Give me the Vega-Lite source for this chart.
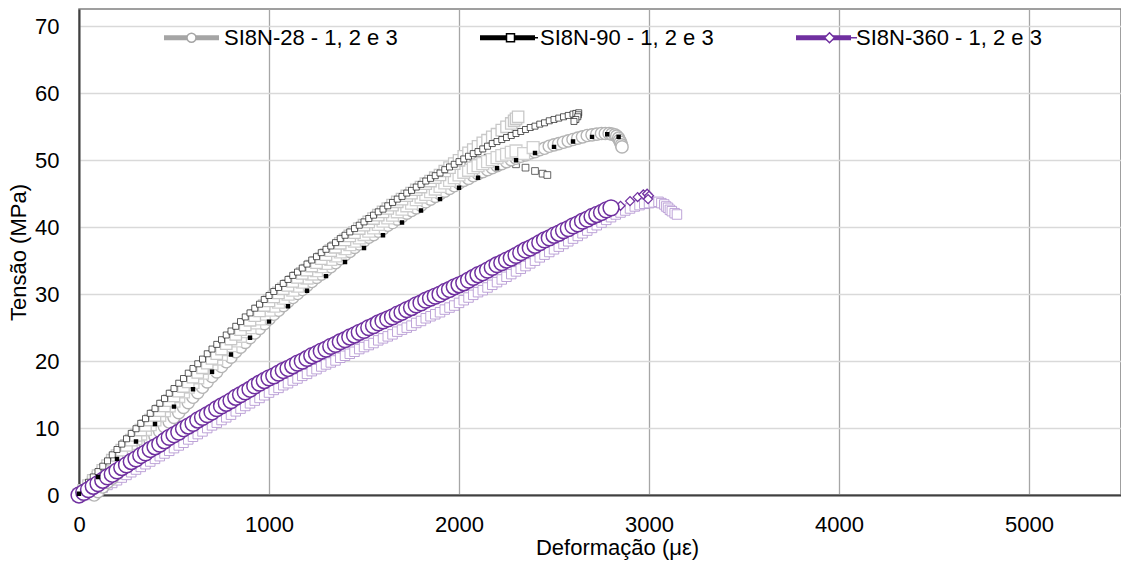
{
"$schema":"https://vega.github.io/schema/vega-lite/v6.json",
"width":1042,"height":486,
"autosize":{"type":"none"},
"padding":{"left":79,"top":9,"right":0,"bottom":69},
"background":"white",
"datasets":{
"leg":[{"g":"SI8N-28 - 1, 2 e 3"},{"g":"SI8N-90 - 1, 2 e 3"},{"g":"SI8N-360 - 1, 2 e 3"}],
"main":[
{"s":"B2","x":0,"y":0},{"s":"B2","x":100,"y":2.8},{"s":"B2","x":200,"y":5.7},{"s":"B2","x":300,"y":8.6},{"s":"B2","x":400,"y":11.5},{"s":"B2","x":500,"y":14.4},{"s":"B2","x":600,"y":17.2},{"s":"B2","x":700,"y":20.0},{"s":"B2","x":800,"y":22.7},{"s":"B2","x":900,"y":25.3},{"s":"B2","x":1000,"y":27.9},{"s":"B2","x":1100,"y":30.3},{"s":"B2","x":1200,"y":32.7},{"s":"B2","x":1300,"y":35.0},{"s":"B2","x":1400,"y":37.2},{"s":"B2","x":1500,"y":39.3},{"s":"B2","x":1600,"y":41.3},{"s":"B2","x":1700,"y":43.2},{"s":"B2","x":1800,"y":45.1},{"s":"B2","x":1900,"y":46.9},{"s":"B2","x":2000,"y":48.6},{"s":"B2","x":2050,"y":49.4},{"s":"B2","x":2100,"y":50.0},{"s":"B2","x":2150,"y":50.4},{"s":"B2","x":2200,"y":50.3},{"s":"B2","x":2250,"y":49.9},{"s":"B2","x":2300,"y":49.4},{"s":"B2","x":2350,"y":48.9},{"s":"B2","x":2400,"y":48.4},{"s":"B2","x":2440,"y":48.0},{"s":"B2","x":2465,"y":47.8},
{"s":"P3","x":50,"y":0.0},{"s":"P3","x":75,"y":0.3},{"s":"P3","x":100,"y":0.6},{"s":"P3","x":125,"y":1.1},{"s":"P3","x":150,"y":1.5},{"s":"P3","x":175,"y":1.8},{"s":"P3","x":200,"y":2.2},{"s":"P3","x":225,"y":2.6},{"s":"P3","x":250,"y":3.0},{"s":"P3","x":275,"y":3.4},{"s":"P3","x":300,"y":3.8},{"s":"P3","x":325,"y":4.2},{"s":"P3","x":350,"y":4.6},{"s":"P3","x":375,"y":5.0},{"s":"P3","x":400,"y":5.4},{"s":"P3","x":425,"y":5.8},{"s":"P3","x":450,"y":6.2},{"s":"P3","x":475,"y":6.6},{"s":"P3","x":500,"y":7.0},{"s":"P3","x":525,"y":7.4},{"s":"P3","x":550,"y":7.8},{"s":"P3","x":575,"y":8.3},{"s":"P3","x":600,"y":8.7},{"s":"P3","x":625,"y":9.1},{"s":"P3","x":650,"y":9.5},{"s":"P3","x":675,"y":10.0},{"s":"P3","x":700,"y":10.4},{"s":"P3","x":725,"y":10.8},{"s":"P3","x":750,"y":11.2},{"s":"P3","x":775,"y":11.6},{"s":"P3","x":800,"y":12.0},{"s":"P3","x":825,"y":12.5},{"s":"P3","x":850,"y":12.9},{"s":"P3","x":875,"y":13.3},{"s":"P3","x":900,"y":13.7},{"s":"P3","x":925,"y":14.1},{"s":"P3","x":950,"y":14.5},{"s":"P3","x":975,"y":14.9},{"s":"P3","x":1000,"y":15.3},{"s":"P3","x":1025,"y":15.7},{"s":"P3","x":1050,"y":16.0},{"s":"P3","x":1075,"y":16.4},{"s":"P3","x":1100,"y":16.7},{"s":"P3","x":1125,"y":17.1},{"s":"P3","x":1150,"y":17.4},{"s":"P3","x":1175,"y":17.8},{"s":"P3","x":1200,"y":18.1},{"s":"P3","x":1225,"y":18.5},{"s":"P3","x":1250,"y":18.8},{"s":"P3","x":1275,"y":19.2},{"s":"P3","x":1300,"y":19.5},{"s":"P3","x":1325,"y":19.8},{"s":"P3","x":1350,"y":20.1},{"s":"P3","x":1375,"y":20.5},{"s":"P3","x":1400,"y":20.8},{"s":"P3","x":1425,"y":21.1},{"s":"P3","x":1450,"y":21.4},{"s":"P3","x":1475,"y":21.8},{"s":"P3","x":1500,"y":22.1},{"s":"P3","x":1525,"y":22.4},{"s":"P3","x":1550,"y":22.7},{"s":"P3","x":1575,"y":23.1},{"s":"P3","x":1600,"y":23.4},{"s":"P3","x":1625,"y":23.7},{"s":"P3","x":1650,"y":24.0},{"s":"P3","x":1675,"y":24.4},{"s":"P3","x":1700,"y":24.7},{"s":"P3","x":1725,"y":25.0},{"s":"P3","x":1750,"y":25.3},{"s":"P3","x":1775,"y":25.7},{"s":"P3","x":1800,"y":26.0},{"s":"P3","x":1825,"y":26.4},{"s":"P3","x":1850,"y":26.7},{"s":"P3","x":1875,"y":27.0},{"s":"P3","x":1900,"y":27.3},{"s":"P3","x":1925,"y":27.7},{"s":"P3","x":1950,"y":28.0},{"s":"P3","x":1975,"y":28.3},{"s":"P3","x":2000,"y":28.7},{"s":"P3","x":2025,"y":29.1},{"s":"P3","x":2050,"y":29.5},{"s":"P3","x":2075,"y":29.9},{"s":"P3","x":2100,"y":30.3},{"s":"P3","x":2125,"y":30.6},{"s":"P3","x":2150,"y":31.0},{"s":"P3","x":2175,"y":31.4},{"s":"P3","x":2200,"y":31.8},{"s":"P3","x":2225,"y":32.2},{"s":"P3","x":2250,"y":32.6},{"s":"P3","x":2275,"y":33.0},{"s":"P3","x":2300,"y":33.4},{"s":"P3","x":2325,"y":33.8},{"s":"P3","x":2350,"y":34.2},{"s":"P3","x":2375,"y":34.6},{"s":"P3","x":2400,"y":35.0},{"s":"P3","x":2425,"y":35.5},{"s":"P3","x":2450,"y":35.9},{"s":"P3","x":2475,"y":36.3},{"s":"P3","x":2500,"y":36.7},{"s":"P3","x":2525,"y":37.1},{"s":"P3","x":2550,"y":37.5},{"s":"P3","x":2575,"y":37.9},{"s":"P3","x":2600,"y":38.3},{"s":"P3","x":2625,"y":38.7},{"s":"P3","x":2650,"y":39.1},{"s":"P3","x":2675,"y":39.5},{"s":"P3","x":2700,"y":39.9},{"s":"P3","x":2725,"y":40.3},{"s":"P3","x":2750,"y":40.7},{"s":"P3","x":2775,"y":41.1},{"s":"P3","x":2800,"y":41.5},{"s":"P3","x":2825,"y":41.9},{"s":"P3","x":2850,"y":42.2},{"s":"P3","x":2875,"y":42.5},{"s":"P3","x":2900,"y":42.8},{"s":"P3","x":2925,"y":43.1},{"s":"P3","x":2950,"y":43.3},{"s":"P3","x":2975,"y":43.5},{"s":"P3","x":3000,"y":43.6},{"s":"P3","x":3025,"y":43.7},{"s":"P3","x":3050,"y":43.8},{"s":"P3","x":3065,"y":43.6},{"s":"P3","x":3080,"y":43.4},{"s":"P3","x":3090,"y":43.1},{"s":"P3","x":3100,"y":42.9},{"s":"P3","x":3110,"y":42.6},{"s":"P3","x":3120,"y":42.4},{"s":"P3","x":3135,"y":42.1},{"s":"P3","x":3147,"y":41.9},
{"s":"G1","x":80,"y":0.0},{"s":"G1","x":100,"y":0.5},{"s":"G1","x":125,"y":1.2},{"s":"G1","x":150,"y":1.9},{"s":"G1","x":175,"y":2.5},{"s":"G1","x":200,"y":3.2},{"s":"G1","x":225,"y":3.9},{"s":"G1","x":250,"y":4.6},{"s":"G1","x":275,"y":5.3},{"s":"G1","x":300,"y":6.0},{"s":"G1","x":325,"y":6.7},{"s":"G1","x":350,"y":7.4},{"s":"G1","x":375,"y":8.1},{"s":"G1","x":400,"y":8.8},{"s":"G1","x":425,"y":9.5},{"s":"G1","x":450,"y":10.2},{"s":"G1","x":475,"y":10.9},{"s":"G1","x":500,"y":11.6},{"s":"G1","x":525,"y":12.3},{"s":"G1","x":550,"y":13.1},{"s":"G1","x":575,"y":13.8},{"s":"G1","x":600,"y":14.6},{"s":"G1","x":625,"y":15.3},{"s":"G1","x":650,"y":16.1},{"s":"G1","x":675,"y":16.9},{"s":"G1","x":700,"y":17.7},{"s":"G1","x":725,"y":18.4},{"s":"G1","x":750,"y":19.2},{"s":"G1","x":775,"y":19.9},{"s":"G1","x":800,"y":20.6},{"s":"G1","x":825,"y":21.4},{"s":"G1","x":850,"y":22.1},{"s":"G1","x":875,"y":22.8},{"s":"G1","x":900,"y":23.5},{"s":"G1","x":925,"y":24.2},{"s":"G1","x":950,"y":24.9},{"s":"G1","x":975,"y":25.6},{"s":"G1","x":1000,"y":26.3},{"s":"G1","x":1025,"y":27.0},{"s":"G1","x":1050,"y":27.6},{"s":"G1","x":1075,"y":28.3},{"s":"G1","x":1100,"y":28.9},{"s":"G1","x":1125,"y":29.5},{"s":"G1","x":1150,"y":30.1},{"s":"G1","x":1175,"y":30.7},{"s":"G1","x":1200,"y":31.3},{"s":"G1","x":1225,"y":31.9},{"s":"G1","x":1250,"y":32.5},{"s":"G1","x":1275,"y":33.0},{"s":"G1","x":1300,"y":33.6},{"s":"G1","x":1325,"y":34.1},{"s":"G1","x":1350,"y":34.7},{"s":"G1","x":1375,"y":35.3},{"s":"G1","x":1400,"y":35.9},{"s":"G1","x":1425,"y":36.4},{"s":"G1","x":1450,"y":37.0},{"s":"G1","x":1475,"y":37.5},{"s":"G1","x":1500,"y":38.0},{"s":"G1","x":1525,"y":38.5},{"s":"G1","x":1550,"y":38.9},{"s":"G1","x":1575,"y":39.4},{"s":"G1","x":1600,"y":39.8},{"s":"G1","x":1625,"y":40.3},{"s":"G1","x":1650,"y":40.7},{"s":"G1","x":1675,"y":41.2},{"s":"G1","x":1700,"y":41.6},{"s":"G1","x":1725,"y":42.1},{"s":"G1","x":1750,"y":42.5},{"s":"G1","x":1775,"y":42.9},{"s":"G1","x":1800,"y":43.3},{"s":"G1","x":1825,"y":43.8},{"s":"G1","x":1850,"y":44.2},{"s":"G1","x":1875,"y":44.6},{"s":"G1","x":1900,"y":45.0},{"s":"G1","x":1925,"y":45.4},{"s":"G1","x":1950,"y":45.8},{"s":"G1","x":1975,"y":46.2},{"s":"G1","x":2000,"y":46.6},{"s":"G1","x":2025,"y":47.0},{"s":"G1","x":2050,"y":47.3},{"s":"G1","x":2075,"y":47.7},{"s":"G1","x":2100,"y":48.0},{"s":"G1","x":2125,"y":48.3},{"s":"G1","x":2150,"y":48.6},{"s":"G1","x":2175,"y":48.9},{"s":"G1","x":2200,"y":49.2},{"s":"G1","x":2225,"y":49.5},{"s":"G1","x":2250,"y":49.8},{"s":"G1","x":2275,"y":50.1},{"s":"G1","x":2300,"y":50.3},{"s":"G1","x":2325,"y":50.6},{"s":"G1","x":2350,"y":50.8},{"s":"G1","x":2375,"y":51.1},{"s":"G1","x":2400,"y":51.3},{"s":"G1","x":2425,"y":51.6},{"s":"G1","x":2450,"y":51.8},{"s":"G1","x":2475,"y":52.1},{"s":"G1","x":2500,"y":52.3},{"s":"G1","x":2525,"y":52.5},{"s":"G1","x":2550,"y":52.7},{"s":"G1","x":2575,"y":52.9},{"s":"G1","x":2600,"y":53.1},{"s":"G1","x":2625,"y":53.3},{"s":"G1","x":2650,"y":53.5},{"s":"G1","x":2675,"y":53.7},{"s":"G1","x":2700,"y":53.8},{"s":"G1","x":2725,"y":53.9},{"s":"G1","x":2750,"y":54.0},{"s":"G1","x":2770,"y":54.0},{"s":"G1","x":2790,"y":54.0},{"s":"G1","x":2805,"y":53.9},{"s":"G1","x":2820,"y":53.8},{"s":"G1","x":2830,"y":53.6},{"s":"G1","x":2840,"y":53.3},{"s":"G1","x":2845,"y":53.0},{"s":"G1","x":2850,"y":52.7},{"s":"G1","x":2855,"y":52.3},{"s":"G1","x":2858,"y":52.0},
{"s":"G3","x":0,"y":0},{"s":"G3","x":25,"y":0.6},{"s":"G3","x":50,"y":1.2},{"s":"G3","x":75,"y":1.9},{"s":"G3","x":100,"y":2.6},{"s":"G3","x":125,"y":3.3},{"s":"G3","x":150,"y":4.0},{"s":"G3","x":175,"y":4.8},{"s":"G3","x":200,"y":5.5},{"s":"G3","x":225,"y":6.3},{"s":"G3","x":250,"y":7.0},{"s":"G3","x":275,"y":7.7},{"s":"G3","x":300,"y":8.4},{"s":"G3","x":325,"y":9.1},{"s":"G3","x":350,"y":9.8},{"s":"G3","x":375,"y":10.5},{"s":"G3","x":400,"y":11.2},{"s":"G3","x":425,"y":11.9},{"s":"G3","x":450,"y":12.6},{"s":"G3","x":475,"y":13.3},{"s":"G3","x":500,"y":14.0},{"s":"G3","x":525,"y":14.7},{"s":"G3","x":550,"y":15.4},{"s":"G3","x":575,"y":16.1},{"s":"G3","x":600,"y":16.8},{"s":"G3","x":625,"y":17.5},{"s":"G3","x":650,"y":18.2},{"s":"G3","x":675,"y":18.9},{"s":"G3","x":700,"y":19.6},{"s":"G3","x":725,"y":20.3},{"s":"G3","x":750,"y":21.0},{"s":"G3","x":775,"y":21.7},{"s":"G3","x":800,"y":22.3},{"s":"G3","x":825,"y":23.0},{"s":"G3","x":850,"y":23.7},{"s":"G3","x":875,"y":24.4},{"s":"G3","x":900,"y":25.0},{"s":"G3","x":925,"y":25.7},{"s":"G3","x":950,"y":26.3},{"s":"G3","x":975,"y":27.0},{"s":"G3","x":1000,"y":27.6},{"s":"G3","x":1025,"y":28.2},{"s":"G3","x":1050,"y":28.8},{"s":"G3","x":1075,"y":29.4},{"s":"G3","x":1100,"y":30.0},{"s":"G3","x":1125,"y":30.6},{"s":"G3","x":1150,"y":31.2},{"s":"G3","x":1175,"y":31.8},{"s":"G3","x":1200,"y":32.4},{"s":"G3","x":1225,"y":33.0},{"s":"G3","x":1250,"y":33.5},{"s":"G3","x":1275,"y":34.1},{"s":"G3","x":1300,"y":34.6},{"s":"G3","x":1325,"y":35.2},{"s":"G3","x":1350,"y":35.7},{"s":"G3","x":1375,"y":36.3},{"s":"G3","x":1400,"y":36.8},{"s":"G3","x":1425,"y":37.4},{"s":"G3","x":1450,"y":37.9},{"s":"G3","x":1475,"y":38.4},{"s":"G3","x":1500,"y":38.9},{"s":"G3","x":1525,"y":39.4},{"s":"G3","x":1550,"y":39.9},{"s":"G3","x":1575,"y":40.4},{"s":"G3","x":1600,"y":40.9},{"s":"G3","x":1625,"y":41.4},{"s":"G3","x":1650,"y":41.8},{"s":"G3","x":1675,"y":42.3},{"s":"G3","x":1700,"y":42.7},{"s":"G3","x":1725,"y":43.2},{"s":"G3","x":1750,"y":43.6},{"s":"G3","x":1775,"y":44.1},{"s":"G3","x":1800,"y":44.5},{"s":"G3","x":1825,"y":44.9},{"s":"G3","x":1850,"y":45.3},{"s":"G3","x":1875,"y":45.7},{"s":"G3","x":1900,"y":46.1},{"s":"G3","x":1925,"y":46.6},{"s":"G3","x":1950,"y":47.0},{"s":"G3","x":1975,"y":47.4},{"s":"G3","x":2000,"y":47.8},{"s":"G3","x":2025,"y":48.2},{"s":"G3","x":2050,"y":48.5},{"s":"G3","x":2075,"y":48.9},{"s":"G3","x":2100,"y":49.2},{"s":"G3","x":2125,"y":49.5},{"s":"G3","x":2150,"y":49.8},{"s":"G3","x":2175,"y":50.1},{"s":"G3","x":2200,"y":50.4},{"s":"G3","x":2225,"y":50.7},{"s":"G3","x":2250,"y":50.9},{"s":"G3","x":2275,"y":51.2},{"s":"G3","x":2300,"y":51.4},{"s":"G3","x":2340,"y":51.0},{"s":"G3","x":2390,"y":51.9},
{"s":"G2","x":0,"y":0},{"s":"G2","x":25,"y":0.7},{"s":"G2","x":50,"y":1.4},{"s":"G2","x":75,"y":2.2},{"s":"G2","x":100,"y":2.9},{"s":"G2","x":125,"y":3.7},{"s":"G2","x":150,"y":4.4},{"s":"G2","x":175,"y":5.2},{"s":"G2","x":200,"y":5.9},{"s":"G2","x":225,"y":6.7},{"s":"G2","x":250,"y":7.4},{"s":"G2","x":275,"y":8.2},{"s":"G2","x":300,"y":8.9},{"s":"G2","x":325,"y":9.7},{"s":"G2","x":350,"y":10.4},{"s":"G2","x":375,"y":11.2},{"s":"G2","x":400,"y":11.9},{"s":"G2","x":425,"y":12.6},{"s":"G2","x":450,"y":13.3},{"s":"G2","x":475,"y":14.1},{"s":"G2","x":500,"y":14.8},{"s":"G2","x":525,"y":15.5},{"s":"G2","x":550,"y":16.2},{"s":"G2","x":575,"y":16.9},{"s":"G2","x":600,"y":17.6},{"s":"G2","x":625,"y":18.3},{"s":"G2","x":650,"y":19.0},{"s":"G2","x":675,"y":19.7},{"s":"G2","x":700,"y":20.4},{"s":"G2","x":725,"y":21.1},{"s":"G2","x":750,"y":21.8},{"s":"G2","x":775,"y":22.6},{"s":"G2","x":800,"y":23.3},{"s":"G2","x":825,"y":24.0},{"s":"G2","x":850,"y":24.7},{"s":"G2","x":875,"y":25.4},{"s":"G2","x":900,"y":26.1},{"s":"G2","x":925,"y":26.8},{"s":"G2","x":950,"y":27.5},{"s":"G2","x":975,"y":28.3},{"s":"G2","x":1000,"y":29.0},{"s":"G2","x":1025,"y":29.6},{"s":"G2","x":1050,"y":30.2},{"s":"G2","x":1075,"y":30.8},{"s":"G2","x":1100,"y":31.3},{"s":"G2","x":1125,"y":31.9},{"s":"G2","x":1150,"y":32.5},{"s":"G2","x":1175,"y":33.1},{"s":"G2","x":1200,"y":33.6},{"s":"G2","x":1225,"y":34.2},{"s":"G2","x":1250,"y":34.7},{"s":"G2","x":1275,"y":35.3},{"s":"G2","x":1300,"y":35.9},{"s":"G2","x":1325,"y":36.5},{"s":"G2","x":1350,"y":37.0},{"s":"G2","x":1375,"y":37.6},{"s":"G2","x":1400,"y":38.1},{"s":"G2","x":1425,"y":38.7},{"s":"G2","x":1450,"y":39.2},{"s":"G2","x":1475,"y":39.8},{"s":"G2","x":1500,"y":40.3},{"s":"G2","x":1525,"y":40.8},{"s":"G2","x":1550,"y":41.3},{"s":"G2","x":1575,"y":41.8},{"s":"G2","x":1600,"y":42.3},{"s":"G2","x":1625,"y":42.8},{"s":"G2","x":1650,"y":43.3},{"s":"G2","x":1675,"y":43.8},{"s":"G2","x":1700,"y":44.2},{"s":"G2","x":1725,"y":44.7},{"s":"G2","x":1750,"y":45.1},{"s":"G2","x":1775,"y":45.6},{"s":"G2","x":1800,"y":46.0},{"s":"G2","x":1825,"y":46.5},{"s":"G2","x":1850,"y":46.9},{"s":"G2","x":1875,"y":47.4},{"s":"G2","x":1900,"y":47.8},{"s":"G2","x":1925,"y":48.4},{"s":"G2","x":1950,"y":48.9},{"s":"G2","x":1975,"y":49.5},{"s":"G2","x":2000,"y":50.0},{"s":"G2","x":2025,"y":50.6},{"s":"G2","x":2050,"y":51.1},{"s":"G2","x":2075,"y":51.6},{"s":"G2","x":2100,"y":52.1},{"s":"G2","x":2125,"y":52.6},{"s":"G2","x":2150,"y":53.0},{"s":"G2","x":2175,"y":53.5},{"s":"G2","x":2200,"y":53.9},{"s":"G2","x":2225,"y":54.5},{"s":"G2","x":2250,"y":55.0},{"s":"G2","x":2275,"y":55.5},{"s":"G2","x":2290,"y":55.9},{"s":"G2","x":2300,"y":56.2},{"s":"G2","x":2311,"y":56.5},
{"s":"B1","x":0,"y":0.3},{"s":"B1","x":25,"y":1.1},{"s":"B1","x":50,"y":1.9},{"s":"B1","x":75,"y":2.7},{"s":"B1","x":100,"y":3.5},{"s":"B1","x":125,"y":4.3},{"s":"B1","x":150,"y":5.1},{"s":"B1","x":175,"y":6.0},{"s":"B1","x":200,"y":6.8},{"s":"B1","x":225,"y":7.6},{"s":"B1","x":250,"y":8.4},{"s":"B1","x":275,"y":9.2},{"s":"B1","x":300,"y":9.9},{"s":"B1","x":325,"y":10.7},{"s":"B1","x":350,"y":11.4},{"s":"B1","x":375,"y":12.2},{"s":"B1","x":400,"y":12.9},{"s":"B1","x":425,"y":13.7},{"s":"B1","x":450,"y":14.4},{"s":"B1","x":475,"y":15.2},{"s":"B1","x":500,"y":15.9},{"s":"B1","x":525,"y":16.7},{"s":"B1","x":550,"y":17.4},{"s":"B1","x":575,"y":18.2},{"s":"B1","x":600,"y":18.9},{"s":"B1","x":625,"y":19.6},{"s":"B1","x":650,"y":20.3},{"s":"B1","x":675,"y":21.1},{"s":"B1","x":700,"y":21.8},{"s":"B1","x":725,"y":22.5},{"s":"B1","x":750,"y":23.2},{"s":"B1","x":775,"y":23.9},{"s":"B1","x":800,"y":24.5},{"s":"B1","x":825,"y":25.2},{"s":"B1","x":850,"y":25.9},{"s":"B1","x":875,"y":26.6},{"s":"B1","x":900,"y":27.2},{"s":"B1","x":925,"y":27.9},{"s":"B1","x":950,"y":28.5},{"s":"B1","x":975,"y":29.2},{"s":"B1","x":1000,"y":29.8},{"s":"B1","x":1025,"y":30.4},{"s":"B1","x":1050,"y":31.0},{"s":"B1","x":1075,"y":31.6},{"s":"B1","x":1100,"y":32.2},{"s":"B1","x":1125,"y":32.8},{"s":"B1","x":1150,"y":33.3},{"s":"B1","x":1175,"y":33.9},{"s":"B1","x":1200,"y":34.5},{"s":"B1","x":1225,"y":35.1},{"s":"B1","x":1250,"y":35.6},{"s":"B1","x":1275,"y":36.2},{"s":"B1","x":1300,"y":36.7},{"s":"B1","x":1325,"y":37.2},{"s":"B1","x":1350,"y":37.7},{"s":"B1","x":1375,"y":38.3},{"s":"B1","x":1400,"y":38.8},{"s":"B1","x":1425,"y":39.3},{"s":"B1","x":1450,"y":39.8},{"s":"B1","x":1475,"y":40.3},{"s":"B1","x":1500,"y":40.8},{"s":"B1","x":1525,"y":41.3},{"s":"B1","x":1550,"y":41.8},{"s":"B1","x":1575,"y":42.3},{"s":"B1","x":1600,"y":42.7},{"s":"B1","x":1625,"y":43.2},{"s":"B1","x":1650,"y":43.7},{"s":"B1","x":1675,"y":44.2},{"s":"B1","x":1700,"y":44.6},{"s":"B1","x":1725,"y":45.1},{"s":"B1","x":1750,"y":45.5},{"s":"B1","x":1775,"y":46.0},{"s":"B1","x":1800,"y":46.4},{"s":"B1","x":1825,"y":46.9},{"s":"B1","x":1850,"y":47.3},{"s":"B1","x":1875,"y":47.7},{"s":"B1","x":1900,"y":48.1},{"s":"B1","x":1925,"y":48.6},{"s":"B1","x":1950,"y":49.0},{"s":"B1","x":1975,"y":49.4},{"s":"B1","x":2000,"y":49.8},{"s":"B1","x":2025,"y":50.2},{"s":"B1","x":2050,"y":50.6},{"s":"B1","x":2075,"y":51.0},{"s":"B1","x":2100,"y":51.3},{"s":"B1","x":2125,"y":51.7},{"s":"B1","x":2150,"y":52.1},{"s":"B1","x":2175,"y":52.5},{"s":"B1","x":2200,"y":52.8},{"s":"B1","x":2225,"y":53.1},{"s":"B1","x":2250,"y":53.4},{"s":"B1","x":2275,"y":53.7},{"s":"B1","x":2300,"y":54.0},{"s":"B1","x":2325,"y":54.3},{"s":"B1","x":2350,"y":54.6},{"s":"B1","x":2375,"y":54.9},{"s":"B1","x":2400,"y":55.1},{"s":"B1","x":2425,"y":55.4},{"s":"B1","x":2450,"y":55.6},{"s":"B1","x":2475,"y":55.9},{"s":"B1","x":2500,"y":56.1},{"s":"B1","x":2525,"y":56.3},{"s":"B1","x":2550,"y":56.5},{"s":"B1","x":2575,"y":56.7},{"s":"B1","x":2600,"y":56.9},{"s":"B1","x":2615,"y":57.0},{"s":"B1","x":2630,"y":57.1},{"s":"B1","x":2628,"y":56.8},{"s":"B1","x":2625,"y":56.5},{"s":"B1","x":2615,"y":56.1},{"s":"B1","x":2605,"y":55.8},
{"s":"P2","x":0,"y":0},{"s":"P2","x":100,"y":1.3},{"s":"P2","x":200,"y":3.2},{"s":"P2","x":300,"y":5.0},{"s":"P2","x":400,"y":6.8},{"s":"P2","x":500,"y":8.6},{"s":"P2","x":600,"y":10.3},{"s":"P2","x":700,"y":12.0},{"s":"P2","x":800,"y":13.7},{"s":"P2","x":900,"y":15.4},{"s":"P2","x":1000,"y":17.0},{"s":"P2","x":1100,"y":18.5},{"s":"P2","x":1200,"y":20.0},{"s":"P2","x":1300,"y":21.4},{"s":"P2","x":1400,"y":22.8},{"s":"P2","x":1500,"y":24.2},{"s":"P2","x":1600,"y":25.6},{"s":"P2","x":1700,"y":26.9},{"s":"P2","x":1800,"y":28.3},{"s":"P2","x":1900,"y":29.6},{"s":"P2","x":2000,"y":31.0},{"s":"P2","x":2100,"y":32.5},{"s":"P2","x":2200,"y":34.0},{"s":"P2","x":2300,"y":35.5},{"s":"P2","x":2400,"y":37.0},{"s":"P2","x":2500,"y":38.5},{"s":"P2","x":2600,"y":40.0},{"s":"P2","x":2700,"y":41.3},{"s":"P2","x":2800,"y":42.5},{"s":"P2","x":2850,"y":43.2},{"s":"P2","x":2900,"y":43.9},{"s":"P2","x":2940,"y":44.5},{"s":"P2","x":2970,"y":44.9},{"s":"P2","x":2990,"y":45.0},{"s":"P2","x":3000,"y":44.7},{"s":"P2","x":2995,"y":44.2},
{"s":"P1","x":0,"y":0.0},{"s":"P1","x":25,"y":0.4},{"s":"P1","x":50,"y":0.8},{"s":"P1","x":75,"y":1.3},{"s":"P1","x":100,"y":1.7},{"s":"P1","x":125,"y":2.2},{"s":"P1","x":150,"y":2.7},{"s":"P1","x":175,"y":3.1},{"s":"P1","x":200,"y":3.6},{"s":"P1","x":225,"y":4.1},{"s":"P1","x":250,"y":4.5},{"s":"P1","x":275,"y":5.0},{"s":"P1","x":300,"y":5.4},{"s":"P1","x":325,"y":5.9},{"s":"P1","x":350,"y":6.3},{"s":"P1","x":375,"y":6.8},{"s":"P1","x":400,"y":7.2},{"s":"P1","x":425,"y":7.6},{"s":"P1","x":450,"y":8.1},{"s":"P1","x":475,"y":8.6},{"s":"P1","x":500,"y":9.0},{"s":"P1","x":525,"y":9.4},{"s":"P1","x":550,"y":9.9},{"s":"P1","x":575,"y":10.3},{"s":"P1","x":600,"y":10.7},{"s":"P1","x":625,"y":11.2},{"s":"P1","x":650,"y":11.6},{"s":"P1","x":675,"y":12.0},{"s":"P1","x":700,"y":12.4},{"s":"P1","x":725,"y":12.9},{"s":"P1","x":750,"y":13.3},{"s":"P1","x":775,"y":13.7},{"s":"P1","x":800,"y":14.1},{"s":"P1","x":825,"y":14.6},{"s":"P1","x":850,"y":15.0},{"s":"P1","x":875,"y":15.4},{"s":"P1","x":900,"y":15.8},{"s":"P1","x":925,"y":16.3},{"s":"P1","x":950,"y":16.7},{"s":"P1","x":975,"y":17.1},{"s":"P1","x":1000,"y":17.5},{"s":"P1","x":1025,"y":17.8},{"s":"P1","x":1050,"y":18.2},{"s":"P1","x":1075,"y":18.6},{"s":"P1","x":1100,"y":18.9},{"s":"P1","x":1125,"y":19.3},{"s":"P1","x":1150,"y":19.7},{"s":"P1","x":1175,"y":20.0},{"s":"P1","x":1200,"y":20.4},{"s":"P1","x":1225,"y":20.8},{"s":"P1","x":1250,"y":21.1},{"s":"P1","x":1275,"y":21.5},{"s":"P1","x":1300,"y":21.8},{"s":"P1","x":1325,"y":22.2},{"s":"P1","x":1350,"y":22.5},{"s":"P1","x":1375,"y":22.9},{"s":"P1","x":1400,"y":23.2},{"s":"P1","x":1425,"y":23.6},{"s":"P1","x":1450,"y":23.9},{"s":"P1","x":1475,"y":24.3},{"s":"P1","x":1500,"y":24.6},{"s":"P1","x":1525,"y":25.0},{"s":"P1","x":1550,"y":25.3},{"s":"P1","x":1575,"y":25.7},{"s":"P1","x":1600,"y":26.0},{"s":"P1","x":1625,"y":26.3},{"s":"P1","x":1650,"y":26.6},{"s":"P1","x":1675,"y":27.0},{"s":"P1","x":1700,"y":27.3},{"s":"P1","x":1725,"y":27.7},{"s":"P1","x":1750,"y":28.0},{"s":"P1","x":1775,"y":28.4},{"s":"P1","x":1800,"y":28.7},{"s":"P1","x":1825,"y":29.1},{"s":"P1","x":1850,"y":29.4},{"s":"P1","x":1875,"y":29.7},{"s":"P1","x":1900,"y":30.0},{"s":"P1","x":1925,"y":30.4},{"s":"P1","x":1950,"y":30.7},{"s":"P1","x":1975,"y":31.1},{"s":"P1","x":2000,"y":31.4},{"s":"P1","x":2025,"y":31.7},{"s":"P1","x":2050,"y":32.1},{"s":"P1","x":2075,"y":32.5},{"s":"P1","x":2100,"y":32.9},{"s":"P1","x":2125,"y":33.2},{"s":"P1","x":2150,"y":33.6},{"s":"P1","x":2175,"y":34.0},{"s":"P1","x":2200,"y":34.4},{"s":"P1","x":2225,"y":34.7},{"s":"P1","x":2250,"y":35.1},{"s":"P1","x":2275,"y":35.4},{"s":"P1","x":2300,"y":35.8},{"s":"P1","x":2325,"y":36.2},{"s":"P1","x":2350,"y":36.6},{"s":"P1","x":2375,"y":36.9},{"s":"P1","x":2400,"y":37.3},{"s":"P1","x":2425,"y":37.7},{"s":"P1","x":2450,"y":38.1},{"s":"P1","x":2475,"y":38.4},{"s":"P1","x":2500,"y":38.8},{"s":"P1","x":2525,"y":39.1},{"s":"P1","x":2550,"y":39.5},{"s":"P1","x":2575,"y":39.8},{"s":"P1","x":2600,"y":40.2},{"s":"P1","x":2625,"y":40.5},{"s":"P1","x":2650,"y":40.9},{"s":"P1","x":2675,"y":41.2},{"s":"P1","x":2700,"y":41.6},{"s":"P1","x":2725,"y":41.9},{"s":"P1","x":2750,"y":42.2},{"s":"P1","x":2775,"y":42.6},{"s":"P1","x":2800,"y":42.9},
{"s":"B3","x":0,"y":0.2},{"s":"B3","x":100,"y":2.7},{"s":"B3","x":200,"y":5.4},{"s":"B3","x":300,"y":8.0},{"s":"B3","x":400,"y":10.6},{"s":"B3","x":500,"y":13.2},{"s":"B3","x":600,"y":15.8},{"s":"B3","x":700,"y":18.4},{"s":"B3","x":800,"y":21.0},{"s":"B3","x":900,"y":23.5},{"s":"B3","x":1000,"y":25.9},{"s":"B3","x":1100,"y":28.2},{"s":"B3","x":1200,"y":30.5},{"s":"B3","x":1300,"y":32.7},{"s":"B3","x":1400,"y":34.8},{"s":"B3","x":1500,"y":36.9},{"s":"B3","x":1600,"y":38.8},{"s":"B3","x":1700,"y":40.7},{"s":"B3","x":1800,"y":42.5},{"s":"B3","x":1900,"y":44.2},{"s":"B3","x":2000,"y":45.9},{"s":"B3","x":2100,"y":47.4},{"s":"B3","x":2200,"y":48.8},{"s":"B3","x":2300,"y":50.0},{"s":"B3","x":2400,"y":51.1},{"s":"B3","x":2500,"y":52.0},{"s":"B3","x":2600,"y":52.8},{"s":"B3","x":2700,"y":53.5},{"s":"B3","x":2780,"y":53.9},{"s":"B3","x":2840,"y":53.5}
]},
"layer":[
{"data":{"name":"main"},
 "mark":{"type":"point","filled":false,"fill":"white","opacity":1},
 "encoding":{
  "x":{"field":"x","type":"quantitative","scale":{"domain":[0,5484],"nice":false,"zero":false},
       "axis":{"values":[0,1000,2000,3000,4000,5000],"format":"d","grid":true,"gridColor":"#a6a6a6","gridWidth":1.3,"domainColor":"#404040","domainWidth":2,"ticks":false,"labelFontSize":22,"labelColor":"#000000","labelPadding":19,"labelFlush":false,"title":"Deformação (με)","titleFontSize":22,"titleFontWeight":"normal","titleColor":"#000000","titlePadding":2,"titleX":538}},
  "y":{"field":"y","type":"quantitative","scale":{"domain":[0,72.6],"nice":false},
       "axis":{"values":[0,10,20,30,40,50,60,70],"format":"d","grid":true,"gridColor":"#d9d9d9","gridWidth":1.5,"domainColor":"#404040","domainWidth":2,"ticks":false,"labelFontSize":22,"labelColor":"#000000","labelPadding":20,"title":"Tensão (MPa)","titleFontSize":22,"titleFontWeight":"normal","titleColor":"#000000","titlePadding":4}},
  "color":{"field":"s","type":"nominal","legend":null,"scale":{"type":"ordinal","domain":["G1","G2","G3","B1","B2","B3","P1","P2","P3"],"range":["#b4b4b4","#c8c8c8","#cfcfcf","#1a1a1a","#404040","#000000","#7030a0","#7030a0","#b79ad4"]}},
  "shape":{"field":"s","type":"nominal","legend":null,"scale":{"type":"ordinal","domain":["G1","G2","G3","B1","B2","B3","P1","P2","P3"],"range":["circle","square","square","square","square","square","circle","diamond","square"]}},
  "size":{"field":"s","type":"nominal","legend":null,"scale":{"type":"ordinal","domain":["G1","G2","G3","B1","B2","B3","P1","P2","P3"],"range":[150,130,140,36,45,5,250,80,90]}},
  "strokeWidth":{"field":"s","type":"nominal","legend":null,"scale":{"type":"ordinal","domain":["G1","G2","G3","B1","B2","B3","P1","P2","P3"],"range":[1.4,1.3,1.3,0.7,0.8,2.2,1.5,1.3,0.9]}}
 }},
{"data":{"name":"leg"},
 "mark":{"type":"point","filled":true,"opacity":0},
 "encoding":{
  "color":{"field":"g","type":"nominal","sort":null,"scale":{"domain":["SI8N-28 - 1, 2 e 3","SI8N-90 - 1, 2 e 3","SI8N-360 - 1, 2 e 3"],"range":["#a5a5a5","#000000","#7030a0"]},
   "legend":{"orient":"none","legendX":84,"legendY":0,"direction":"horizontal","columns":3,"symbolType":"M-1,-0.09H1V0.09H-1Z","symbolSize":3025,"symbolStrokeWidth":1.5,"symbolOpacity":1,"labelFontSize":22,"labelLimit":400,"labelColor":"#000000","labelOffset":4,"columnPadding":81,"padding":0,"title":null,"zindex":1}}
 }},
{"data":{"name":"leg"},
 "mark":{"type":"point","filled":false,"fill":"white","opacity":0},
 "encoding":{
  "color":{"field":"g","type":"nominal","sort":null,"scale":{"domain":["SI8N-28 - 1, 2 e 3","SI8N-90 - 1, 2 e 3","SI8N-360 - 1, 2 e 3"],"range":["#a5a5a5","#000000","#7030a0"]},
   "legend":{"orient":"none","legendX":84,"legendY":0,"direction":"horizontal","columns":3,"symbolSize":3025,"symbolStrokeWidth":1.5,"symbolOpacity":1,"symbolFillColor":"white","labelExpr":"''","labelFontSize":22,"labelOffset":4,"columnPadding":256,"padding":0,"title":null,"zindex":2,"encode":{"symbols":{"update":{"fill":{"value":"white"}}}}}},
  "shape":{"field":"g","type":"nominal","sort":null,"scale":{"domain":["SI8N-28 - 1, 2 e 3","SI8N-90 - 1, 2 e 3","SI8N-360 - 1, 2 e 3"],"range":["M-1,0H-0.164M0.164,0H1M-0.164,0A0.164,0.164,0,1,1,0.164,0A0.164,0.164,0,1,1,-0.164,0Z","M-1,0H-0.145M0.145,0H1M-0.145,-0.145H0.145V0.145H-0.145Z","M-1,0H-0.18M0.18,0H1M0,-0.18L0.18,0L0,0.18L-0.18,0Z"]},
   "legend":{"orient":"none","legendX":84,"legendY":0,"direction":"horizontal","columns":3,"symbolSize":3025,"symbolStrokeWidth":1.5,"symbolOpacity":1,"symbolFillColor":"white","labelExpr":"''","labelFontSize":22,"labelOffset":4,"columnPadding":256,"padding":0,"title":null,"zindex":2,"encode":{"symbols":{"update":{"fill":{"value":"white"}}}}}}
 }}
],
"resolve":{"scale":{"color":"independent","shape":"independent","size":"independent","strokeWidth":"independent"},"legend":{"color":"independent","shape":"independent"}},
"config":{"font":"Liberation Sans","view":{"stroke":"#808080","strokeWidth":1.5},"legend":{"labelFont":"Liberation Sans"},"axis":{"labelFont":"Liberation Sans","titleFont":"Liberation Sans"}}
}
